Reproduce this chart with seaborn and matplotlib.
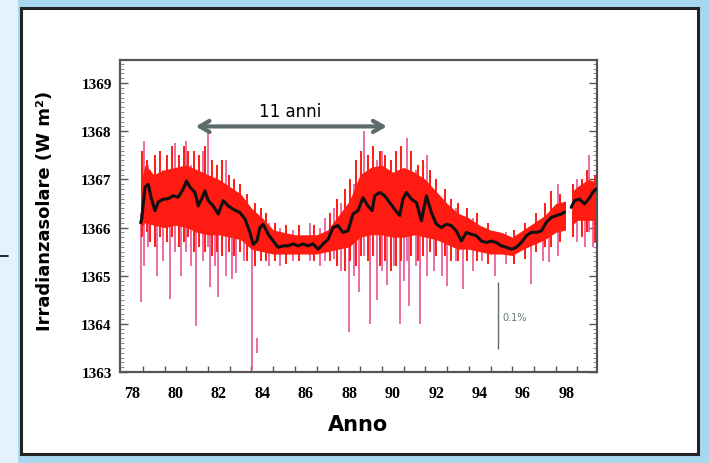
import numpy as np
import pandas as pd
import matplotlib
matplotlib.use("Agg")
import matplotlib.pyplot as plt
from matplotlib.ticker import MultipleLocator, FixedLocator
from matplotlib.patches import Rectangle
import seaborn as sns

# ---------------- data ----------------
# smoothed (black) irradiance, two segments separated by a data gap
black_years_a = [78.40, 78.45, 78.60, 78.75, 78.90, 79.06, 79.21, 79.44, 79.67, 79.90,
                 80.13, 80.36, 80.51, 80.67, 80.90, 81.05, 81.20, 81.36, 81.51, 81.74,
                 81.97, 82.20, 82.43, 82.66, 82.97, 83.20, 83.43, 83.58, 83.75, 83.89,
                 84.04, 84.27, 84.50, 84.73, 84.96, 85.19, 85.42, 85.65, 85.88, 86.10,
                 86.34, 86.57, 86.80, 87.03, 87.25, 87.48, 87.71, 87.94, 88.17, 88.40,
                 88.63, 88.86, 89.05, 89.17, 89.40, 89.63, 89.86, 90.09, 90.32, 90.47,
                 90.63, 90.86, 91.09, 91.32, 91.55, 91.78, 92.01, 92.24, 92.47, 92.70,
                 92.93, 93.16, 93.39, 93.62, 93.85, 94.08, 94.31, 94.54, 94.77, 95.00,
                 95.23, 95.46, 95.69, 95.92, 96.15, 96.38, 96.61, 96.84, 97.07, 97.30,
                 97.53, 97.76, 97.91]
black_vals_a = [1366.10, 1366.18, 1366.84, 1366.90, 1366.59, 1366.35, 1366.53, 1366.59, 1366.60, 1366.66,
                1366.63, 1366.80, 1366.97, 1366.84, 1366.73, 1366.45, 1366.59, 1366.76, 1366.56, 1366.45,
                1366.28, 1366.56, 1366.45, 1366.38, 1366.31, 1366.18, 1365.90, 1365.65, 1365.72, 1366.00,
                1366.07, 1365.86, 1365.72, 1365.59, 1365.62, 1365.62, 1365.66, 1365.62, 1365.66, 1365.62,
                1365.66, 1365.55, 1365.66, 1365.76, 1366.00, 1366.04, 1365.90, 1365.93, 1366.28, 1366.35,
                1366.62, 1366.45, 1366.35, 1366.66, 1366.73, 1366.66, 1366.52, 1366.38, 1366.25, 1366.59,
                1366.73, 1366.59, 1366.52, 1366.14, 1366.66, 1366.31, 1366.07, 1366.00, 1366.07, 1366.04,
                1365.93, 1365.72, 1365.90, 1365.86, 1365.83, 1365.72, 1365.69, 1365.72, 1365.69, 1365.62,
                1365.59, 1365.55, 1365.59, 1365.69, 1365.83, 1365.90, 1365.90, 1365.93, 1366.11, 1366.21,
                1366.25, 1366.28, 1366.32]
black_years_b = [98.21, 98.37, 98.60, 98.83, 99.06, 99.20, 99.35]
black_vals_b = [1366.42, 1366.56, 1366.59, 1366.49, 1366.62, 1366.73, 1366.80]

# dense red band of the daily values (upper / lower edge)
band_years_a = [78.40, 78.60, 79.00, 79.50, 80.00, 80.50, 81.00, 81.50, 82.00, 82.50,
                83.00, 83.50, 84.00, 84.50, 85.00, 85.50, 86.00, 86.50, 87.00, 87.50,
                88.00, 88.50, 89.00, 89.50, 90.00, 90.50, 91.00, 91.50, 92.00, 92.50,
                93.00, 93.50, 94.00, 94.50, 95.00, 95.50, 96.00, 96.50, 97.00, 97.50, 97.95]
band_upper_a = [1366.90, 1367.30, 1367.10, 1367.20, 1367.25, 1367.30, 1367.20, 1367.10, 1367.00, 1366.85,
                1366.70, 1366.40, 1366.20, 1365.95, 1365.90, 1365.85, 1365.85, 1365.85, 1365.95, 1366.25,
                1366.55, 1367.10, 1367.25, 1367.30, 1367.15, 1367.25, 1367.15, 1367.00, 1366.75, 1366.50,
                1366.30, 1366.20, 1366.05, 1365.95, 1365.90, 1365.80, 1365.95, 1366.10, 1366.25, 1366.50, 1366.55]
band_lower_a = [1366.00, 1366.10, 1366.05, 1366.00, 1366.05, 1366.00, 1365.90, 1365.85, 1365.85, 1365.80,
                1365.75, 1365.55, 1365.50, 1365.45, 1365.45, 1365.45, 1365.45, 1365.45, 1365.50, 1365.55,
                1365.60, 1365.80, 1365.85, 1365.85, 1365.80, 1365.80, 1365.85, 1365.80, 1365.75, 1365.65,
                1365.55, 1365.55, 1365.50, 1365.45, 1365.45, 1365.42, 1365.55, 1365.65, 1365.75, 1365.90, 1365.95]
band_years_b = [98.25, 98.50, 99.00, 99.35]
band_upper_b = [1366.75, 1366.85, 1367.00, 1366.95]
band_lower_b = [1366.05, 1366.15, 1366.15, 1366.15]

# red day-to-day excursions around the band (year, low, high)
red_years = [78.48, 78.68, 78.85, 79.05, 79.30, 79.60, 79.85, 80.15, 80.38, 80.60,
             80.85, 81.10, 81.35, 81.70, 81.90, 82.15, 82.45, 82.70, 82.95, 83.30,
             83.65, 83.95, 84.15, 84.60, 85.10, 85.70, 86.40, 87.10, 87.45, 87.80,
             88.05, 88.30, 88.55, 88.85, 89.10, 89.40, 89.65, 89.90, 90.15, 90.40,
             90.85, 91.15, 91.40, 91.70, 92.00, 92.40, 92.70, 93.00, 93.40, 93.90,
             94.40, 95.60, 96.10, 96.60, 97.00, 97.30, 97.70, 98.30, 98.70, 98.95, 99.30]
red_low = [1365.8, 1365.9, 1365.7, 1365.6, 1365.8, 1365.7, 1365.8, 1365.6, 1365.7, 1365.8,
           1365.5, 1365.6, 1365.5, 1365.4, 1365.5, 1365.4, 1365.5, 1365.4, 1365.5, 1365.3,
           1365.2, 1365.3, 1365.3, 1365.3, 1365.25, 1365.3, 1365.3, 1365.3, 1365.2, 1365.1,
           1365.3, 1365.2, 1365.4, 1365.3, 1365.4, 1365.2, 1365.3, 1365.1, 1365.2, 1365.3,
           1365.4, 1365.3, 1365.4, 1365.5, 1365.4, 1365.4, 1365.3, 1365.3, 1365.3, 1365.3,
           1365.25, 1365.25, 1365.35, 1365.5, 1365.6, 1365.6, 1365.7, 1365.8, 1365.8, 1365.9, 1365.7]
red_high = [1367.6, 1367.4, 1367.2, 1367.5, 1367.6, 1367.5, 1367.7, 1367.5, 1367.7, 1367.6,
            1367.6, 1367.5, 1367.7, 1367.4, 1367.3, 1367.4, 1367.1, 1367.0, 1366.9, 1366.7,
            1366.5, 1366.4, 1366.3, 1366.1, 1366.05, 1366.05, 1366.05, 1366.3, 1366.6, 1366.8,
            1367.0, 1367.4, 1367.6, 1367.5, 1367.7, 1367.6, 1367.5, 1367.4, 1367.6, 1367.7,
            1367.6, 1367.3, 1367.4, 1367.2, 1367.0, 1366.8, 1366.6, 1366.5, 1366.4, 1366.3,
            1366.1, 1365.95, 1366.1, 1366.3, 1366.5, 1366.75, 1366.7, 1366.9, 1367.0, 1367.2, 1367.1]

# isolated (pink) daily dips and peaks (year, low, high)
spike_years = [78.41, 78.55, 78.75, 79.15, 79.45, 79.77, 80.00, 80.28, 80.50, 80.70,
               80.97, 81.25, 81.51, 81.59, 81.80, 81.97, 82.35, 82.60, 82.81, 83.15,
               83.52, 83.74, 84.30, 84.83, 85.40, 86.20, 86.67, 86.90, 87.30, 87.60,
               87.98, 88.20, 88.44, 88.70, 88.96, 89.27, 89.50, 89.75, 90.05, 90.32,
               90.50, 90.65, 90.74, 91.05, 91.26, 91.60, 91.90, 92.25, 92.52, 92.90,
               93.25, 93.70, 94.10, 94.71, 95.20, 96.38, 96.90, 97.20, 97.60, 98.50,
               98.85, 99.05, 99.20]
spike_low = [1364.45, 1365.20, 1365.60, 1365.00, 1365.30, 1364.51, 1365.50, 1365.00, 1365.50, 1365.20,
             1363.96, 1365.30, 1365.60, 1364.76, 1365.20, 1364.55, 1365.00, 1364.93, 1365.05, 1365.30,
             1363.05, 1363.40, 1365.20, 1365.20, 1365.30, 1365.30, 1365.20, 1365.30, 1365.35, 1365.10,
             1363.83, 1365.00, 1364.66, 1365.40, 1364.00, 1364.50, 1365.10, 1364.80, 1365.20, 1364.00,
             1364.90, 1365.30, 1364.37, 1365.20, 1364.00, 1365.00, 1365.10, 1365.00, 1364.78, 1365.30,
             1364.72, 1365.10, 1365.30, 1365.00, 1365.25, 1364.83, 1365.30, 1365.28, 1365.40, 1365.70,
             1365.60, 1365.90, 1365.60]
spike_high = [1366.30, 1367.80, 1367.30, 1366.50, 1367.20, 1366.60, 1367.75, 1366.70, 1367.80, 1367.30,
              1366.50, 1367.60, 1368.00, 1366.60, 1367.00, 1366.30, 1367.40, 1366.50, 1366.40, 1366.30,
              1366.20, 1363.70, 1366.10, 1366.00, 1365.95, 1366.10, 1366.00, 1366.20, 1366.40, 1366.50,
              1366.10, 1366.90, 1366.60, 1368.00, 1366.80, 1367.40, 1367.60, 1367.20, 1366.90, 1366.50,
              1367.00, 1367.85, 1366.60, 1367.20, 1366.40, 1367.50, 1366.60, 1366.60, 1366.20, 1366.40,
              1366.10, 1366.20, 1366.00, 1365.90, 1365.90, 1366.00, 1366.20, 1366.30, 1366.90, 1367.00,
              1366.60, 1367.50, 1366.50]

y_ticks = [1363, 1364, 1365, 1366, 1367, 1368, 1369]
x_ticks = [78, 80, 82, 84, 86, 88, 90, 92, 94, 96, 98]
x_labels = ["78", "80", "82", "84", "86", "88", "90", "92", "94", "96", "98"]

# ---------------- figure ----------------
sns.set_style("white")
plt.rcParams["font.family"] = ["DejaVu Sans"]
plt.rcParams["text.color"] = "black"
plt.rcParams["axes.labelcolor"] = "black"

fig = plt.figure(figsize=(7.09, 4.64), dpi=100)
fig.patch.set_facecolor("#a8d8f0")
# lighter strip on the far left
fig.patches.append(Rectangle((0, 0), 18 / 709, 1, transform=fig.transFigure,
                             facecolor="#e4f3fb", edgecolor="none", zorder=-3))
# white panel with dark frame
fig.patches.append(Rectangle((21 / 709, 1 - 455 / 464), (698 - 21) / 709, (455 - 9) / 464,
                             transform=fig.transFigure, facecolor="white",
                             edgecolor="#222222", linewidth=2.2, zorder=-2))
fig.lines.append(plt.Line2D([0, 8 / 709], [1 - 257 / 464, 1 - 257 / 464],
                            transform=fig.transFigure, color="black", lw=1.2, zorder=-1))

ax = fig.add_axes([120 / 709, 1 - 373 / 464, (597 - 120) / 709, (373 - 61) / 464])
ax.set_zorder(2)
ax.set_facecolor("white")

# pink isolated dips / peaks
ax.vlines(spike_years, spike_low, spike_high, color="#e8458a", lw=1.1, zorder=1.8)
# red band and red excursions
ax.fill_between(band_years_a, band_lower_a, band_upper_a, color="#ff1a12", lw=0, zorder=2)
ax.fill_between(band_years_b, band_lower_b, band_upper_b, color="#ff1a12", lw=0, zorder=2)
ax.vlines(red_years, red_low, red_high, color="#ff1a12", lw=1.4, zorder=2.2)

# black smoothed line
df = pd.DataFrame({
    "anno": black_years_a + black_years_b,
    "irr": black_vals_a + black_vals_b,
    "seg": [0] * len(black_years_a) + [1] * len(black_years_b),
})
sns.lineplot(data=df, x="anno", y="irr", units="seg", estimator=None, sort=False,
             color="#111111", lw=2.2, ax=ax, zorder=3, legend=False)

# limits and ticks
ax.set_xlim(77.45, 99.4)
ax.set_ylim(1363, 1369.48)
ax.set_xticks(x_ticks)
ax.set_xticklabels(x_labels, fontfamily="Liberation Serif", fontweight="bold", fontsize=11.5)
ax.xaxis.set_minor_locator(FixedLocator([v + 0.5 for v in range(78, 99)]))
ax.set_yticks(y_ticks)
ax.set_yticklabels([str(v) for v in y_ticks], fontfamily="Liberation Serif",
                   fontweight="bold", fontsize=11)
ax.yaxis.set_minor_locator(MultipleLocator(0.1))
ax.tick_params(axis="x", which="major", length=0, pad=9, labelcolor="black")
ax.tick_params(axis="x", which="minor", direction="in", length=4, width=1,
               color="#555555", bottom=True, top=False)
ax.tick_params(axis="y", which="major", direction="in", length=6, width=1,
               color="#555555", left=True, right=True, pad=6, labelcolor="black")
ax.tick_params(axis="y", which="minor", direction="in", length=3, width=0.6,
               color="#777777", left=True, right=True)
for s in ax.spines.values():
    s.set_color("#555555")
    s.set_linewidth(1.6)

ax.set_xlabel("Anno", fontsize=15, fontweight="black", labelpad=10)
ax.set_ylabel("Irradianzasolare (W m²)", fontsize=13, fontweight="black", labelpad=10)
ax.yaxis.set_label_coords(-0.138, 0.52)

# 11-year arrow
ax.annotate("", xy=(80.8, 1368.1), xytext=(89.86, 1368.1),
            arrowprops=dict(arrowstyle="<->,head_length=0.7,head_width=0.4",
                            color="#5c6c6c", lw=3), zorder=4)
ax.text(85.3, 1368.42, "11 anni", ha="center", va="center", fontsize=12, color="black")

# 0.1 % scale bar
ax.vlines([94.83], [1363.48], [1364.87], color="#5f6f6f", lw=1)
ax.text(95.05, 1364.15, "0.1%", ha="left", va="center", fontsize=7, color="#667777")

fig.savefig("out.png", dpi=100, facecolor=fig.get_facecolor())
